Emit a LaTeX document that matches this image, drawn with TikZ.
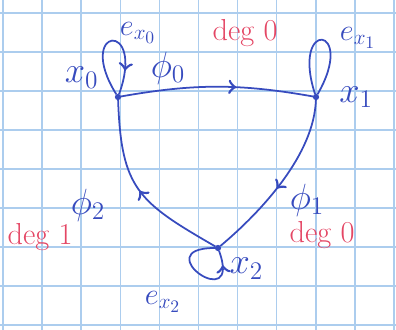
\documentclass[tikz,border=0pt]{standalone}
\usepackage{amsmath,amssymb}
\usepackage{tikz}
\usetikzlibrary{decorations.markings}
\definecolor{ink}{RGB}{55,75,190}
\definecolor{pen}{RGB}{228,70,100}
\definecolor{squares}{RGB}{172,205,238}

\begin{document}
\begin{tikzpicture}[x=0.02cm,y=0.02cm]
\tikzset{midarrow/.style={postaction={decorate},decoration={markings,mark=at position #1 with {\arrow[scale=1.5]{>}}}}}
\tikzset{every loop/.style={}}
\useasboundingbox (0,0) rectangle (396,330);
% squared paper
\foreach \i in {0,...,10} \draw[squares,line width=0.8pt] (3+39.1*\i,0) -- (3+39.1*\i,330);
\foreach \j in {0,...,8} \draw[squares,line width=0.8pt] (0,317-39*\j) -- (396,317-39*\j);

\node (0) at (118,233) [draw=ink,circle,inner sep=1.1pt,fill=ink,label={[ink,label distance=6pt]170:{\huge$x_0$}}] {};
\node (1) at (316,233) [draw=ink,circle,inner sep=1.1pt,fill=ink,label={[ink,label distance=8pt]0:{\huge$x_1$}}] {};
\node (2) at (218,82)  [draw=ink,circle,inner sep=1.1pt,fill=ink,label={[ink,label distance=2pt]-35:{\huge$x_2$}}] {};

\node (e0) at (138,297) [ink] {\LARGE$e_{x_0}$};
\node (e1) at (358,292) [ink] {\LARGE$e_{x_1}$};
\node (e2) at (163,28)  [ink] {\LARGE$e_{x_2}$};
\node (f0) at (168,262) [ink] {\huge$\phi_0$};
\node (f1) at (307,130) [ink] {\huge$\phi_1$};
\node (f2) at (88,125)  [ink] {\huge$\phi_2$};
\node (d0) at (245,297) [pen] {\LARGE deg 0};
\node (d1) at (322,95)  [pen] {\LARGE deg 0};
\node (d2) at (40,93)   [pen] {\LARGE deg 1};

\path[ink,line width=1pt]
(0) edge [bend left=10, midarrow=0.6] (1)
(1) edge [out=-92, in=40, looseness=0.8, midarrow=0.55] (2)
(2) edge [out=150, in=-88, looseness=1.3, midarrow=0.5] (0)
(0) edge [loop, out=122, in=70, distance=1.6cm, midarrow=0.8] (0)
(1) edge [loop, out=108, in=60, distance=1.6cm] (1)
(2) edge [loop, out=180, in=-70, distance=1.4cm, midarrow=0.85] (2);
\end{tikzpicture}
\end{document}
